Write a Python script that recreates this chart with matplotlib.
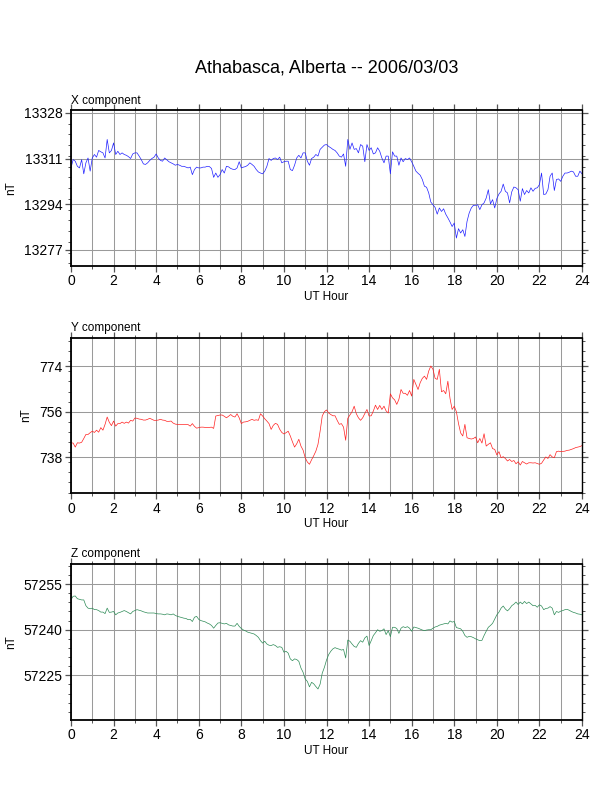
import numpy as np
import matplotlib
matplotlib.use("Agg")
import matplotlib.pyplot as plt
from matplotlib.ticker import MultipleLocator

plt.rcParams['font.family'] = ['Liberation Sans', 'DejaVu Sans']

# one sample every 0.1 UT hour
hours = np.arange(241) * 0.1

x_comp = [
    13307.5, 13310.6, 13310.0, 13308.1, 13307.5, 13310.6, 13305.3, 13309.4, 13311.2, 13306.3,
    13311.2, 13312.5, 13311.5, 13314.0, 13313.5, 13313.1, 13311.2, 13318.1, 13313.1, 13314.0,
    13316.8, 13312.5, 13313.7, 13312.5, 13313.1, 13312.5, 13312.2, 13311.7, 13311.0, 13312.7,
    13313.1, 13313.1, 13311.9, 13310.6, 13309.0, 13308.8, 13309.4, 13310.3, 13311.0, 13311.5,
    13312.7, 13311.2, 13310.3, 13310.0, 13311.2, 13310.5, 13309.8, 13309.4, 13309.0, 13308.5,
    13308.8, 13308.5, 13308.1, 13308.1, 13307.8, 13307.5, 13307.8, 13305.0, 13306.9, 13307.8,
    13307.5, 13307.5, 13307.8, 13307.8, 13308.1, 13308.0, 13307.3, 13304.0, 13305.6, 13304.0,
    13305.0, 13306.9, 13305.6, 13308.1, 13307.9, 13307.3, 13307.0, 13306.9, 13307.5, 13309.8,
    13307.5, 13307.8, 13308.0, 13308.5, 13309.4, 13308.8, 13308.1, 13306.9, 13306.0, 13305.6,
    13305.3, 13306.3, 13308.1, 13311.0, 13310.3, 13311.0, 13311.2, 13310.6, 13311.5, 13309.4,
    13309.8, 13310.0, 13310.0, 13306.9, 13306.5, 13308.5, 13311.2, 13312.2, 13311.2, 13313.1,
    13313.1, 13310.0, 13308.5, 13311.0, 13311.5, 13312.5, 13311.9, 13314.4, 13315.2, 13316.0,
    13316.2, 13315.5, 13315.0, 13314.4, 13314.0, 13313.1, 13311.9, 13311.5, 13312.7, 13308.1,
    13318.1, 13314.4, 13316.8, 13314.4, 13314.7, 13313.1, 13316.2, 13315.6, 13309.8, 13316.2,
    13314.0, 13315.0, 13312.7, 13313.1, 13315.0, 13313.7, 13311.2, 13309.4, 13311.9, 13311.9,
    13305.3, 13313.5, 13311.9, 13311.9, 13308.5, 13311.2, 13309.8, 13311.0, 13310.6, 13311.2,
    13309.8, 13308.1, 13306.3, 13305.5, 13304.8, 13303.2, 13300.7, 13300.3, 13298.2, 13294.8,
    13293.8, 13292.8, 13290.3, 13292.6, 13291.3, 13292.3, 13290.3, 13288.9, 13287.4, 13285.7,
    13287.0, 13281.4, 13284.9, 13283.3, 13284.5, 13282.0, 13287.6, 13290.7, 13292.6, 13293.6,
    13293.6, 13293.8, 13292.0, 13293.8, 13294.5, 13296.3, 13299.4, 13294.1, 13295.7, 13292.6,
    13296.1, 13297.8, 13298.8, 13301.5, 13298.8, 13298.2, 13294.5, 13298.6, 13300.4, 13300.1,
    13299.4, 13295.1, 13299.8, 13297.6, 13299.1, 13298.2, 13300.1, 13298.8, 13299.9, 13300.1,
    13301.3, 13305.6, 13297.6, 13297.8, 13299.4, 13304.4, 13305.6, 13299.1, 13303.2, 13303.4,
    13302.5, 13304.4, 13305.6, 13305.6, 13305.9, 13306.3, 13306.0, 13304.4, 13304.4, 13306.3,
    13305.3,
]

y_comp = [
    743.7, 743.6, 742.0, 743.7, 743.6, 743.9, 745.4, 747.0, 747.0, 747.7,
    748.3, 747.8, 748.7, 747.9, 749.7, 748.7, 751.0, 753.9, 751.8, 750.5,
    752.3, 750.3, 751.3, 751.3, 751.9, 751.4, 751.9, 751.5, 752.6, 752.3,
    753.5, 753.4, 753.1, 753.0, 752.7, 752.7, 753.0, 753.4, 753.0, 752.6,
    752.6, 752.7, 753.0, 752.7, 752.6, 752.2, 752.2, 752.3, 751.5, 751.1,
    751.0, 751.0, 751.0, 751.0, 751.0, 750.9, 750.3, 751.3, 750.2, 749.5,
    749.7, 749.9, 749.9, 749.8, 749.7, 749.8, 749.9, 749.4, 754.3, 754.5,
    754.7, 754.7, 754.2, 753.6, 754.2, 754.9, 754.2, 753.9, 755.2, 753.6,
    751.3, 751.9, 752.0, 752.2, 752.6, 753.0, 752.6, 752.8, 752.6, 755.2,
    754.3, 753.2, 752.3, 751.3, 749.0, 750.6, 751.4, 751.0, 749.1, 747.8,
    747.2, 747.7, 748.3, 746.4, 744.1, 742.0, 743.3, 745.1, 742.4, 740.8,
    737.8, 736.1, 735.2, 737.0, 738.6, 740.4, 743.1, 748.3, 754.3, 756.0,
    756.7, 755.5, 754.9, 754.4, 754.4, 752.6, 751.0, 751.3, 749.9, 744.7,
    753.4, 754.7, 756.0, 758.2, 755.2, 753.6, 752.6, 753.6, 755.3, 756.9,
    754.3, 754.4, 756.3, 758.6, 756.9, 758.5, 756.9, 758.2, 756.3, 755.5,
    763.1, 761.5, 760.7, 758.9, 760.9, 764.8, 763.3, 763.3, 762.5, 764.4,
    762.2, 768.8, 766.8, 764.8, 767.5, 769.2, 770.1, 768.8, 772.1, 774.1,
    772.8, 769.2, 768.8, 772.8, 763.9, 764.4, 763.1, 768.1, 761.3, 756.9,
    758.2, 756.0, 751.3, 747.6, 746.4, 751.0, 745.7, 745.4, 745.2, 745.4,
    746.0, 743.7, 745.4, 743.6, 747.3, 742.4, 743.1, 743.7, 741.4, 741.1,
    738.9, 740.2, 737.8, 738.2, 737.5, 736.5, 737.1, 736.3, 736.7, 735.4,
    736.2, 734.9, 736.3, 735.8, 735.3, 735.8, 735.8, 735.7, 735.8, 735.5,
    735.2, 735.6, 736.9, 738.1, 737.5, 739.0, 738.1, 737.8, 740.2, 740.4,
    740.2, 740.3, 740.4, 740.7, 740.8, 741.1, 741.4, 741.8, 742.0, 742.2,
    742.6,
]

z_comp = [
    57249.9, 57251.0, 57251.1, 57250.2, 57250.0, 57249.8, 57249.8, 57247.9, 57247.1, 57246.9,
    57247.1, 57246.6, 57246.6, 57246.3, 57245.8, 57245.8, 57245.3, 57247.1, 57245.7, 57245.8,
    57246.0, 57244.9, 57245.5, 57245.7, 57246.0, 57246.3, 57246.0, 57245.6, 57245.2, 57246.0,
    57246.3, 57246.6, 57246.4, 57246.2, 57245.9, 57245.7, 57245.5, 57245.5, 57245.5, 57245.5,
    57245.3, 57245.2, 57245.2, 57245.1, 57244.9, 57245.2, 57245.1, 57244.9, 57245.2, 57244.7,
    57244.4, 57244.2, 57244.0, 57243.8, 57243.7, 57243.3, 57243.4, 57242.7, 57244.1, 57244.4,
    57243.4, 57243.0, 57242.8, 57242.6, 57242.2, 57241.9, 57241.4, 57240.5, 57241.4, 57242.2,
    57242.3, 57242.1, 57241.9, 57242.1, 57241.6, 57241.4, 57241.2, 57241.2, 57242.1, 57241.1,
    57240.4, 57239.9, 57239.6, 57239.2, 57239.0, 57238.8, 57238.6, 57238.1, 57237.5, 57236.4,
    57235.6, 57236.2, 57235.3, 57234.9, 57234.8, 57235.1, 57234.8, 57234.2, 57234.4, 57234.2,
    57232.6, 57232.9, 57232.3, 57230.4, 57229.8, 57230.4, 57230.2, 57229.6, 57227.4, 57226.0,
    57223.8, 57223.0, 57221.2, 57222.7, 57222.2, 57221.3, 57220.5, 57222.1, 57225.7, 57227.6,
    57230.0, 57231.8, 57232.9, 57233.7, 57234.1, 57233.8, 57233.6, 57233.3, 57233.5, 57230.7,
    57236.6, 57236.2, 57235.3, 57234.5, 57234.2, 57235.5, 57236.4, 57235.9, 57237.3, 57237.9,
    57234.8, 57236.4, 57238.1, 57239.0, 57240.0, 57239.5, 57239.7, 57240.3, 57238.4, 57239.7,
    57237.7, 57240.8, 57240.8, 57240.4, 57238.8, 57240.5, 57241.0, 57240.7, 57241.0, 57240.5,
    57239.5, 57240.9, 57240.7, 57240.5, 57240.2, 57239.9, 57239.7, 57239.9, 57240.0, 57240.0,
    57240.5, 57240.9, 57241.1, 57241.5, 57241.7, 57241.9, 57242.1, 57241.9, 57242.9, 57242.5,
    57242.7, 57240.7, 57240.5, 57240.3, 57239.5, 57238.1, 57237.5, 57237.8, 57237.7, 57237.4,
    57237.0, 57236.7, 57236.4, 57236.5, 57238.1, 57239.5, 57240.8, 57241.4, 57242.1, 57243.5,
    57244.9, 57245.8, 57247.1, 57247.8, 57246.8, 57246.2, 57246.9, 57247.9, 57248.4, 57249.1,
    57248.3, 57249.1, 57248.5, 57249.3, 57248.6, 57249.1, 57248.5, 57247.9, 57248.0, 57247.4,
    57248.2, 57247.8, 57246.6, 57247.0, 57247.1, 57247.6, 57247.1, 57244.9, 57246.0, 57245.7,
    57246.1, 57246.3, 57246.6, 57246.7, 57246.4, 57246.0, 57245.7, 57245.5, 57245.2, 57245.1,
    57244.9,
]

# panel settings: name, data, colour, y ticks, y limits, minor step
panels = [
    ("X component", x_comp, "#2020ff", [13277, 13294, 13311, 13328], (13271.0, 13328.9), 4),
    ("Y component", y_comp, "#ff2020", [738, 756, 774], (723.7, 785.3), 4),
    ("Z component", z_comp, "#2e8b57", [57225, 57240, 57255], (57210.4, 57261.6), 3),
]
bottoms = [0.6641, 0.3771, 0.0913]

fig = plt.figure(figsize=(6.12, 7.92), dpi=100)
fig.text(0.533, 0.914, "Athabasca, Alberta -- 2006/03/03", ha="center", va="center", fontsize=13)

for (name, values, colour, yticks, ylim, minor), bottom in zip(panels, bottoms):
    ax = fig.add_axes([0.116, bottom, 0.835, 0.1965])
    ax.plot(hours, values, color=colour, linewidth=0.5)

    ax.set_xlim(0, 24)
    ax.set_ylim(*ylim)
    ax.set_xticks(range(0, 25, 2))
    ax.xaxis.set_minor_locator(MultipleLocator(1))
    ax.set_yticks(yticks)
    ax.yaxis.set_minor_locator(MultipleLocator(minor))

    # light grey grid on every hour and on the labelled nT values
    ax.grid(which="both", axis="x", color="#9a9a9a", linewidth=0.75)
    ax.grid(which="major", axis="y", color="#9a9a9a", linewidth=0.75)
    ax.set_axisbelow(True)

    ax.tick_params(which="both", direction="out", top=True, right=True,
                   labelsize=10, color="#555555", pad=2)
    ax.tick_params(which="major", length=4, width=0.9)
    ax.tick_params(which="minor", length=2.5, width=0.7)

    for side in ["left", "bottom", "top"]:
        ax.spines[side].set_linewidth(1.3)
    ax.spines["right"].set_linewidth(1.0)

    ax.set_xlabel("UT Hour", fontsize=8.5, labelpad=2)
    ax.set_ylabel("nT", fontsize=8.5, labelpad=5)
    ax.text(0.0, 1.025, name, transform=ax.transAxes, ha="left", va="bottom", fontsize=8.5)

fig.savefig("out.png", dpi=100)
